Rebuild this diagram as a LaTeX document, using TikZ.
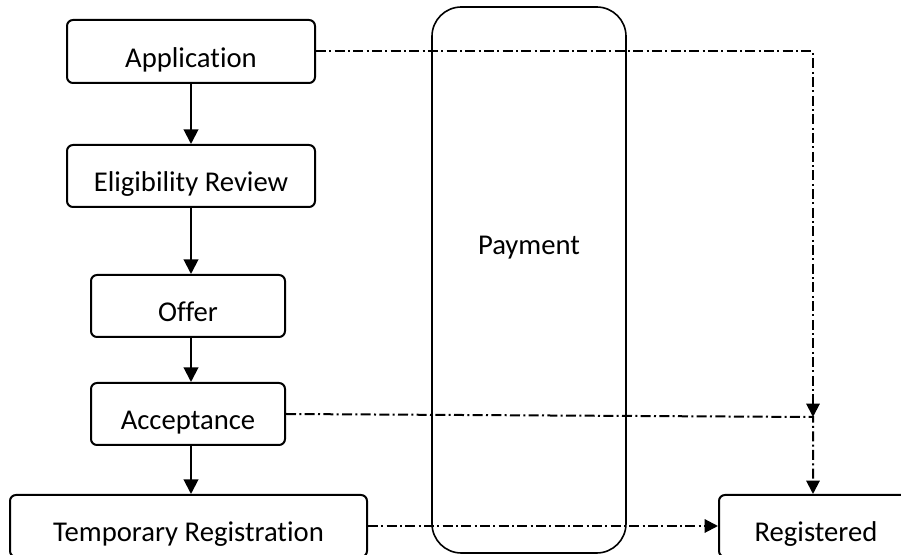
\documentclass[tikz,border=0pt]{standalone}
\usepackage{fontspec}
\setmainfont[Ligatures=NoCommon]{Carlito}
\usetikzlibrary{arrows.meta}

\begin{document}
\begin{tikzpicture}[x=0.75pt, y=-0.75pt, line width=1.5pt,
		stage/.style={draw, rounded corners=4.5pt, inner sep=0pt, minimum height=46.5pt,
			text height=24pt, text depth=0pt, font=\fontsize{21.5}{25}\selectfont},
		flow/.style={-{Triangle[width=11pt, length=11pt]}},
		link/.style={dash pattern=on 7.5pt off 2.5pt on 1.5pt off 2.5pt, -{Triangle[width=10pt, length=10pt]}}]
		\clip (0,0) rectangle (901,555);

		\node [stage, minimum width=186pt, minimum height=47.25pt]	(app)	at (191, 51.5)	{Application};
		\node [stage, minimum width=186pt]		(elig)	at (191, 176)	{Eligibility Review};
		\node [stage, minimum width=145.5pt]	(offer)	at (188, 306)	{Offer};
		\node [stage, minimum width=145.5pt]	(acc)	at (188, 414)	{Acceptance};
		\node [stage, minimum width=267.75pt]	(temp)	at (188.5, 526)	{Temporary Registration};
		\node [stage, minimum width=145.5pt]	(reg)	at (816, 526)	{Registered};

		\node [stage, line width=1.2pt, rounded corners=22pt, minimum width=145.5pt, minimum height=409.5pt,
			text depth=61.5pt]	(pay)	at (529, 280)	{Payment};

		\coordinate (join) at (813, 417);

		\draw [flow]	(app.south) to (elig.north);
		\draw [flow]	(elig.south) to (elig.south |- offer.north);
		\draw [flow]	(elig.south |- offer.south) to (elig.south |- acc.north);
		\draw [flow]	(elig.south |- acc.south) to (elig.south |- temp.north);

		\draw [link]	(app.east) -| (join);
		\draw [link]	(acc.east) -- (join) -- (join |- reg.north);
		\draw [link]	(temp.east) to (reg.west);
	\end{tikzpicture}
\end{document}
